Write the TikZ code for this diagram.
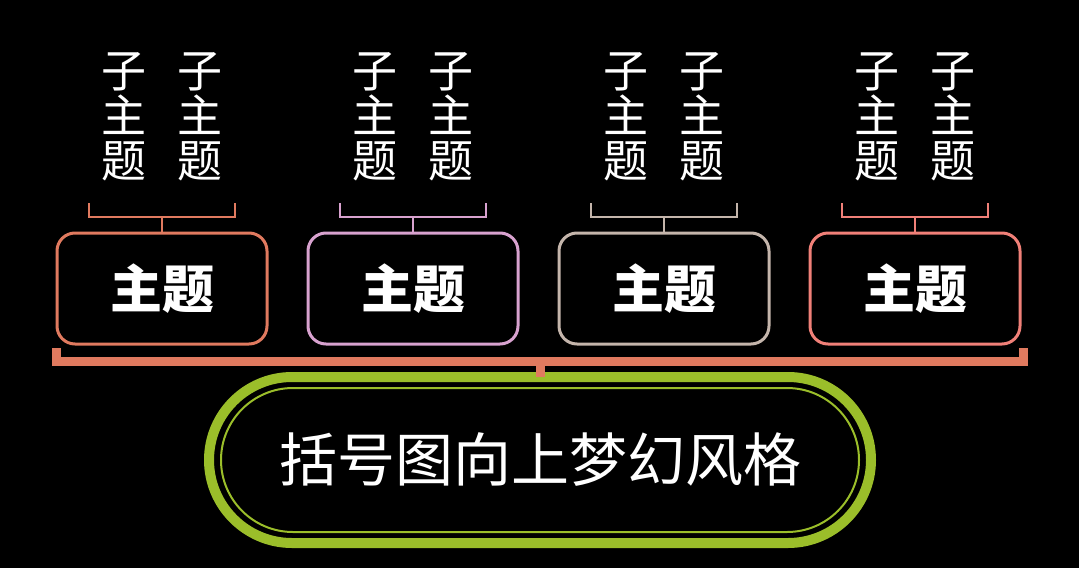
\documentclass[tikz,border=0pt]{standalone}
\usepackage{fontspec}
\newfontfamily\cjk{Noto Sans CJK SC}
\definecolor{cA}{HTML}{E07A5F}
\definecolor{cB}{HTML}{D8A2CF}
\definecolor{cC}{HTML}{C4B5AB}
\definecolor{cD}{HTML}{F08078}
\definecolor{grn}{HTML}{9BBE2A}
\begin{document}
\begin{tikzpicture}[x=1pt,y=-1pt,
  topic/.style={draw=#1,line width=3pt,rounded corners=18pt,minimum width=210pt,minimum height=111pt,text=white,font=\cjk\bfseries\fontsize{52}{52}\selectfont,inner sep=0pt},
  sub/.style={text=white,font=\cjk\fontsize{45}{45}\selectfont,align=center,inner sep=0pt}]
\fill[black] (0,0) rectangle (1079,568);
\useasboundingbox (0,0) rectangle (1079,568);
% main pill
\node[draw=grn,line width=10pt,rounded corners=83pt,minimum width=662pt,minimum height=166pt] (main) at (540,460) {};
\node[draw=grn,line width=2pt,rounded corners=72pt,minimum width=638pt,minimum height=144pt,text=white,font=\cjk\fontsize{58}{58}\selectfont] (title) at (540,460) {括号图向上梦幻风格};
% big bracket
\coordinate (bl) at (56,348);
\coordinate (br) at (1023,348);
\coordinate (bm) at (540,377);
\draw[cA,line width=9pt] (bl) -- (56,361) -- (1023,361) -- (br);
\draw[cA,line width=9pt] (540,361) -- (bm);
% topics
\foreach \i/\x/\c in {1/162/cA,2/413/cB,3/664/cC,4/915/cD}{
  \node[topic=\c] (t\i) at (\x,288.5) {主题};
  \coordinate (s\i) at (\x,217);
  \draw[\c,line width=2pt] (\x-73,203) -- (\x-73,217) -- (\x+73,217) -- (\x+73,203);
  \draw[\c,line width=2pt] (s\i) -- (t\i.north);
  \node[sub] (a\i) at (\x-38,117) {子\\主\\题};
  \node[sub] (b\i) at (\x+38,117) {子\\主\\题};
}
\end{tikzpicture}
\end{document}
